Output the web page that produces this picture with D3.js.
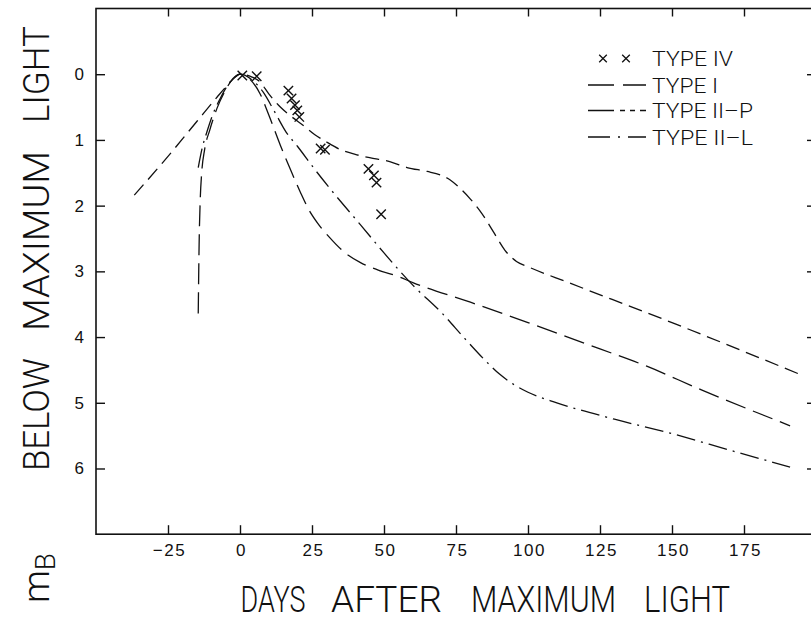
<!DOCTYPE html>
<html>
<head>
<meta charset="utf-8">
<script src="https://cdn.jsdelivr.net/npm/d3@7"></script>
<style>
  html, body { margin: 0; padding: 0; background: #fff; }
  svg { display: block; }
  .tick text { font-family: "Liberation Sans", Arial, sans-serif; font-size: 17px; fill: #111; }
  .xax .tick text { letter-spacing: 1.5px; }
  .title { font-family: Roboto, "Liberation Sans", sans-serif; font-weight: 300; fill: #111; }
  .leg { font-family: Roboto, "Liberation Sans", sans-serif; font-weight: 300; font-size: 21px; fill: #111; }
</style>
</head>
<body>
<svg id="chart" width="811" height="624"></svg>
<script>
// ---------------- data ----------------
const xTicks = [-25, 0, 25, 50, 75, 100, 125, 150, 175];
const yTicks = [0, 1, 2, 3, 4, 5, 6];

const typeIVDays = [0.8, 5.8, 16.8, 17.9, 19.1, 19.9, 20.6, 28.0, 29.5, 44.6, 46.5, 47.4, 49.0];
const typeIVMags = [0.02, 0.03, 0.25, 0.37, 0.47, 0.55, 0.65, 1.13, 1.15, 1.44, 1.54, 1.65, 2.13];

const typeIDays = [-14.5, -14.2, -13.8, -13.3, -12.3, -10.5, -8, -5, -2.5, 0, 3, 7, 10, 14, 18, 21, 24, 27, 31, 36, 42, 48, 55, 60, 80, 100, 125, 141, 160, 191];
const typeIMags = [3.64, 2.6, 1.9, 1.5, 1.15, 0.85, 0.52, 0.24, 0.07, 0, 0.06, 0.3, 0.62, 1.08, 1.5, 1.8, 2.07, 2.27, 2.48, 2.7, 2.87, 2.98, 3.08, 3.17, 3.47, 3.78, 4.18, 4.44, 4.8, 5.35];

const typeIIPDays = [-36.7, -25, -15, -8, -4, -1.5, 0, 4, 7, 10, 14, 18, 22, 26, 30, 35, 40, 45, 52, 58, 65, 70, 73, 76, 80, 84, 88, 92, 96, 100, 114, 150, 194];
const typeIIPMags = [1.84, 1.25, 0.72, 0.35, 0.15, 0.04, 0, 0.04, 0.12, 0.3, 0.5, 0.65, 0.78, 0.92, 1.03, 1.15, 1.22, 1.27, 1.33, 1.42, 1.48, 1.54, 1.61, 1.72, 1.9, 2.12, 2.4, 2.68, 2.85, 2.93, 3.17, 3.78, 4.56];

const typeIILDays = [-14.5, -13, -11.5, -9.5, -7, -4, -2, 0, 4, 8, 12, 16, 20, 26, 32, 42, 50, 60, 70, 78, 85, 90, 95, 100, 110, 130, 150, 170, 191];
const typeIILMags = [1.42, 1.1, 0.88, 0.62, 0.38, 0.15, 0.05, 0, 0.08, 0.27, 0.57, 0.88, 1.1, 1.45, 1.78, 2.3, 2.72, 3.21, 3.63, 4.02, 4.35, 4.56, 4.72, 4.84, 5.0, 5.25, 5.47, 5.72, 5.98];

const legendLabels = ["TYPE IV", "TYPE I", "TYPE II\u2013P", "TYPE II\u2013L"];

// ---------------- chart ----------------
const svg = d3.select("#chart");
const ink = "#111";

const x = d3.scaleLinear().domain([-50, 200]).range([96, 816]);
const y = d3.scaleLinear().domain([-1, 7]).range([8.5, 534.2]);

// frame
svg.append("rect")
  .attr("x", x(-50)).attr("y", y(-1))
  .attr("width", x(200) - x(-50)).attr("height", y(7) - y(-1))
  .attr("fill", "none").attr("stroke", ink).attr("stroke-width", 1.6);

// axes (ticks inward)
const gB = svg.append("g").attr("class", "xax").attr("transform", `translate(0,${y(7)})`)
  .call(d3.axisBottom(x).tickValues(xTicks).tickSizeInner(-9).tickSizeOuter(0).tickPadding(10));
gB.selectAll(".tick text").attr("dx", 1);
const gT = svg.append("g").attr("transform", `translate(0,${y(-1)})`)
  .call(d3.axisTop(x).tickValues(xTicks).tickSizeInner(-8).tickSizeOuter(0).tickFormat(""));
const gL = svg.append("g").attr("transform", `translate(${x(-50)},0)`)
  .call(d3.axisLeft(y).tickValues(yTicks).tickSizeInner(-9).tickSizeOuter(0).tickPadding(12));
const gR = svg.append("g").attr("transform", `translate(${x(200)},0)`)
  .call(d3.axisRight(y).tickValues(yTicks).tickSizeInner(-9).tickSizeOuter(0).tickFormat(""));
[gB, gT, gL, gR].forEach(g => {
  g.select(".domain").remove();
  g.selectAll(".tick line").attr("stroke", ink).attr("stroke-width", 1.4);
});

// curves
const line = d3.line().x(d => x(d[0])).y(d => y(d[1])).curve(d3.curveMonotoneX);
const series = [
  { days: typeIDays, mags: typeIMags, dash: "21,8" },
  { days: typeIIPDays, mags: typeIIPMags, dash: "14,7" },
  { days: typeIILDays, mags: typeIILMags, dash: "19,6,2,6" }
];
series.forEach(s => {
  svg.append("path")
    .datum(s.days.map((d, i) => [d, s.mags[i]]))
    .attr("d", line)
    .attr("fill", "none").attr("stroke", ink)
    .attr("stroke-width", 1.3).attr("stroke-dasharray", s.dash);
});

// Type IV markers
const xs = 4.7;
svg.append("g").selectAll("path")
  .data(typeIVDays.map((d, i) => [d, typeIVMags[i]]))
  .join("path")
  .attr("d", d => `M${x(d[0]) - xs},${y(d[1]) - xs}L${x(d[0]) + xs},${y(d[1]) + xs}M${x(d[0]) - xs},${y(d[1]) + xs}L${x(d[0]) + xs},${y(d[1]) - xs}`)
  .attr("stroke", ink).attr("stroke-width", 1.4).attr("fill", "none");

// legend
const legRows = [58.5, 85, 110.5, 137];
const lx0 = 588, lx1 = 646, tx = 652;
const legLens = [81, 66, 101, 101];
legendLabels.forEach((lab, i) => {
  svg.append("text").attr("class", "leg")
    .attr("x", tx).attr("y", legRows[i] + 7.5)
    .attr("textLength", legLens[i]).attr("lengthAdjust", "spacingAndGlyphs")
    .text(lab);
});
[603, 626].forEach(cx => {
  const cy = legRows[0], s = 3.8;
  svg.append("path")
    .attr("d", `M${cx - s},${cy - s}L${cx + s},${cy + s}M${cx - s},${cy + s}L${cx + s},${cy - s}`)
    .attr("stroke", ink).attr("stroke-width", 1.3);
});
const legDash = ["26,9,30,0", "26,6,5,5,5,5,5,0", "22,8,2,8,24,0"];
legDash.forEach((dsh, i) => {
  svg.append("line")
    .attr("x1", lx0).attr("x2", lx1)
    .attr("y1", legRows[i + 1]).attr("y2", legRows[i + 1])
    .attr("stroke", ink).attr("stroke-width", 1.3).attr("stroke-dasharray", dsh);
});

// x title (words placed separately)
const xWords = [["DAYS", 240.5, 65], ["AFTER", 331, 111], ["MAXIMUM", 471, 145], ["LIGHT", 644, 86]];
xWords.forEach(w => {
  svg.append("text").attr("class", "title")
    .attr("x", w[1]).attr("y", 612).attr("font-size", 37)
    .attr("textLength", w[2]).attr("lengthAdjust", "spacingAndGlyphs")
    .text(w[0]);
});

// y title (rotated); each word: [text, bottom y on screen, length]
const yt = svg.append("g").attr("transform", "translate(49,0) rotate(-90)");
const yWords = [["BELOW", 471, 113], ["MAXIMUM", 331, 180], ["LIGHT", 123, 97]];
yWords.forEach(w => {
  yt.append("text").attr("class", "title")
    .attr("x", -w[1]).attr("y", 0).attr("font-size", 37)
    .attr("textLength", w[2]).attr("lengthAdjust", "spacingAndGlyphs")
    .text(w[0]);
});
const mb = yt.append("text").attr("class", "title").attr("x", -603).attr("y", 0).attr("font-size", 37);
mb.append("tspan").text("m");
mb.append("tspan").attr("font-size", 28).attr("dy", 6).text("B");
</script>
</body>
</html>
